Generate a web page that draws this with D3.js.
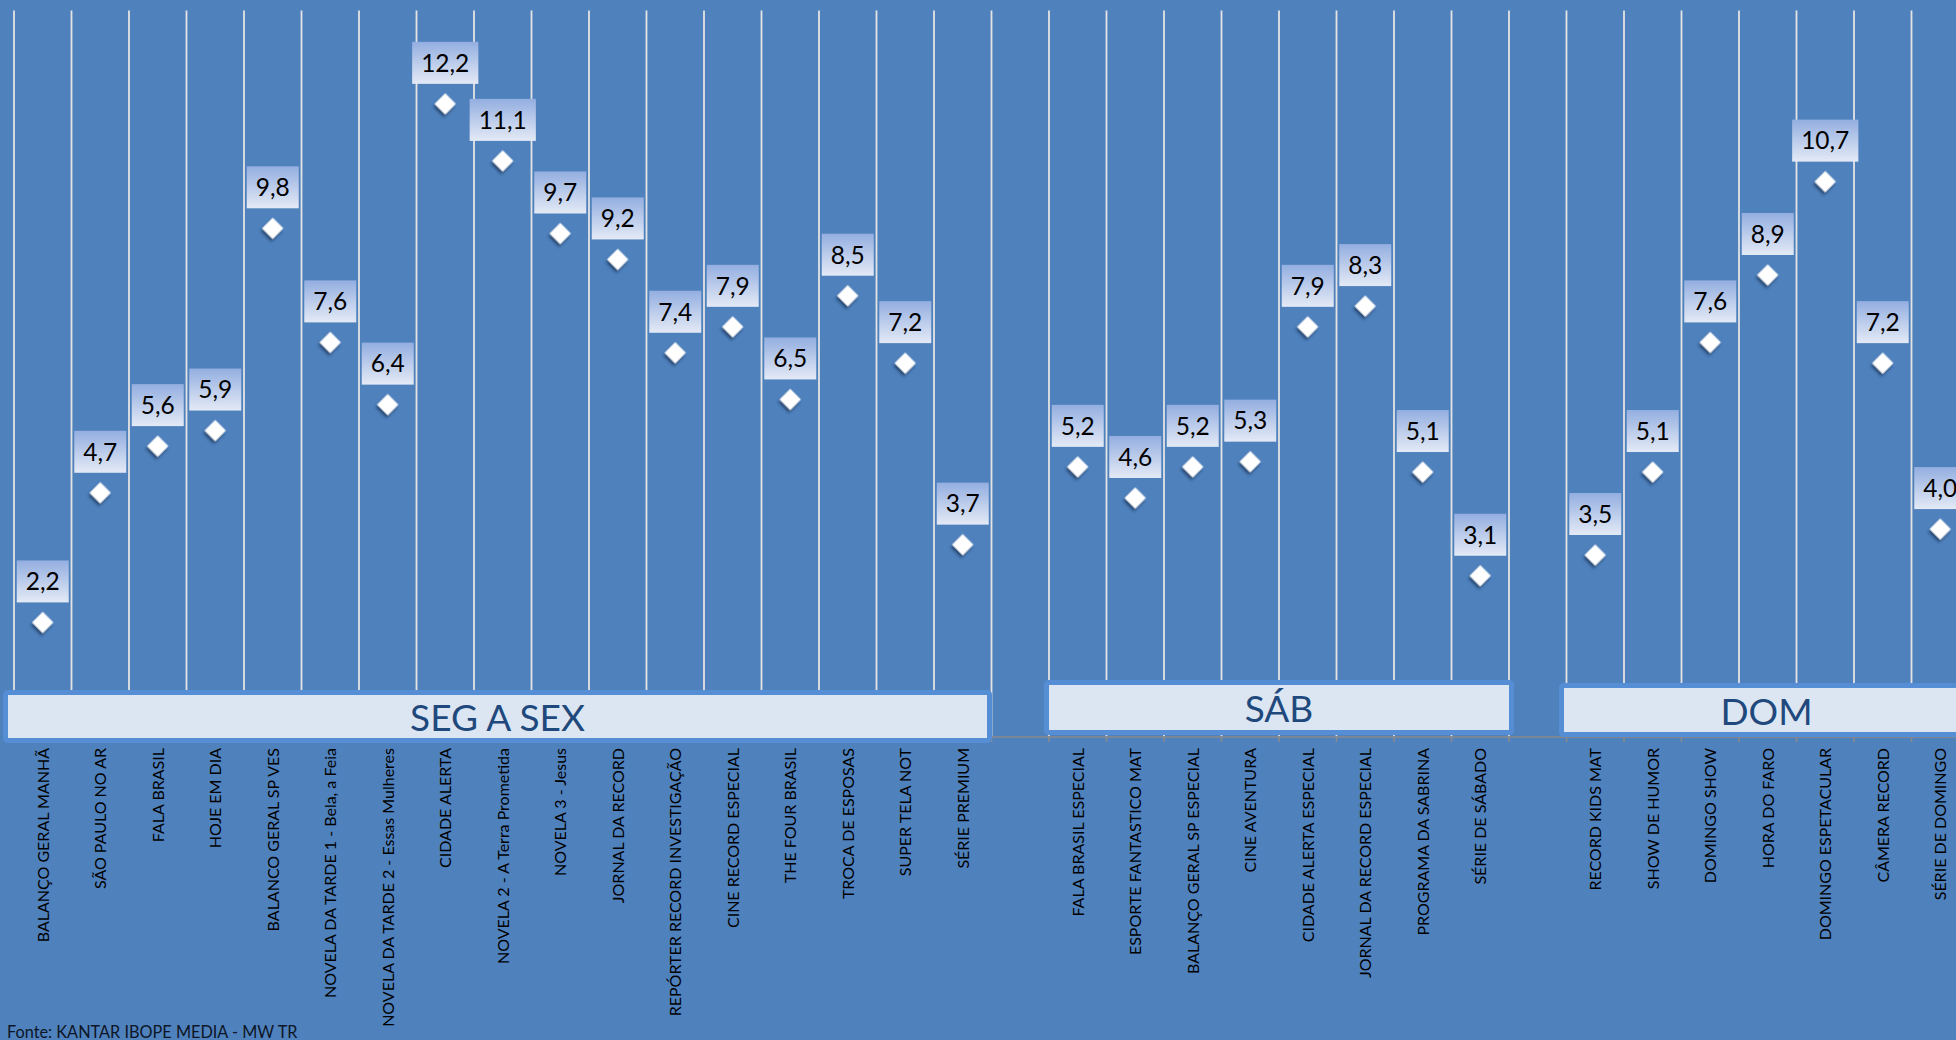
<!DOCTYPE html>
<html>
<head>
<meta charset="utf-8">
<script src="https://cdn.jsdelivr.net/npm/d3@7/dist/d3.min.js"></script>
<style>
  html, body { margin: 0; padding: 0; background: #4f81bd; }
  svg { display: block; }
</style>
</head>
<body>
<svg id="chart" width="1956" height="1040"></svg>
<script>
// ---- DATA ----
const weekdayPrograms = [
  "BALANÇO GERAL MANHÃ", "SÃO PAULO NO AR", "FALA BRASIL", "HOJE EM DIA",
  "BALANCO GERAL SP VES", "NOVELA DA TARDE 1 - Bela, a Feia",
  "NOVELA DA TARDE 2 - Essas Mulheres", "CIDADE  ALERTA",
  "NOVELA 2 - A Terra Prometida", "NOVELA 3 - Jesus", "JORNAL DA RECORD",
  "REPÓRTER RECORD INVESTIGAÇÃO", "CINE RECORD ESPECIAL", "THE FOUR BRASIL",
  "TROCA DE ESPOSAS", "SUPER TELA NOT", "SÉRIE PREMIUM"
];
const weekdayValues = [2.2, 4.7, 5.6, 5.9, 9.8, 7.6, 6.4, 12.2, 11.1, 9.7, 9.2, 7.4, 7.9, 6.5, 8.5, 7.2, 3.7];

const saturdayPrograms = [
  "FALA BRASIL ESPECIAL", "ESPORTE FANTASTICO MAT", "BALANÇO GERAL SP ESPECIAL",
  "CINE AVENTURA", "CIDADE  ALERTA ESPECIAL", "JORNAL DA RECORD ESPECIAL",
  "PROGRAMA DA SABRINA", "SÉRIE DE SÁBADO"
];
const saturdayValues = [5.2, 4.6, 5.2, 5.3, 7.9, 8.3, 5.1, 3.1];

const sundayPrograms = [
  "RECORD KIDS MAT", "SHOW DE HUMOR", "DOMINGO SHOW", "HORA DO FARO",
  "DOMINGO ESPETACULAR", "CÂMERA RECORD", "SÉRIE DE DOMINGO"
];
const sundayValues = [3.5, 5.1, 7.6, 8.9, 10.7, 7.2, 4.0];

const groupLabels = ["SEG A SEX", "SÁB", "DOM"];
const valueDomain = [0, 14];
const sourceNote = "Fonte: KANTAR IBOPE MEDIA - MW TR";

// ---- LAYOUT ----
const W = 1956, H = 1040;
const plotLeft = 14, step = 57.5, plotTop = 10.5, axisY = 736.5;
const FONT = "Lato, 'Open Sans', sans-serif";
// group box placement tweaks (outer edges relative to first/last band)
const groupBoxLayout = [
  { padL: 11, padR: 0.5, top: 690, bottom: 743 },
  { padL: 5, padR: 5, top: 680, bottom: 735 },
  { padL: 7.5, padR: 5, top: 683, bottom: 737 }
];

const groups = [
  { label: groupLabels[0], programs: weekdayPrograms, values: weekdayValues },
  { label: groupLabels[1], programs: saturdayPrograms, values: saturdayValues },
  { label: groupLabels[2], programs: sundayPrograms, values: sundayValues }
];

// Build the flat category list with empty gap columns between groups
const cats = [];
groups.forEach((g, gi) => {
  g.first = cats.length;
  g.programs.forEach((p, i) => cats.push({ label: p, value: g.values[i] }));
  g.last = cats.length - 1;
  if (gi < groups.length - 1) cats.push({ label: "", value: null });
});
const n = cats.length;

const x = d3.scaleBand().domain(d3.range(n)).range([plotLeft, plotLeft + n * step]).padding(0);
const y = d3.scaleLinear().domain(valueDomain).range([axisY, plotTop]);

const svg = d3.select("#chart");
const defs = svg.append("defs");
const grad = defs.append("linearGradient").attr("id", "lblGrad")
  .attr("x1", 0).attr("y1", 0).attr("x2", 0).attr("y2", 1);
grad.append("stop").attr("offset", "0%").attr("stop-color", "#93aee0");
grad.append("stop").attr("offset", "100%").attr("stop-color", "#e4eaf6");

const shadow = defs.append("filter").attr("id", "dshadow")
  .attr("x", "-50%").attr("y", "-50%").attr("width", "200%").attr("height", "200%");
shadow.append("feDropShadow").attr("dx", 1).attr("dy", 3).attr("stdDeviation", 1.6)
  .attr("flood-color", "#1d3558").attr("flood-opacity", 0.75);

svg.append("rect").attr("width", W).attr("height", H).attr("fill", "#4f81bd");

// Gridlines at category boundaries
const bounds = d3.range(n + 1).map(i => i < n ? x(i) : x(n - 1) + x.bandwidth());
svg.append("g").selectAll("line").data(bounds).join("line")
  .attr("x1", d => d).attr("x2", d => d)
  .attr("y1", y(valueDomain[1])).attr("y2", y(0))
  .attr("stroke", "#e4e4e4").attr("stroke-width", 1.8);

// Category axis (labels) via d3.axisBottom
const axis = d3.axisBottom(x).tickSize(0).tickFormat(i => cats[i].label);
const axG = svg.append("g").attr("transform", `translate(0,${axisY})`).call(axis);
axG.select(".domain").attr("stroke", "#8a8a8a").attr("stroke-width", 1.5);
axG.selectAll(".tick text")
  .attr("font-family", FONT).attr("font-size", 16).attr("fill", "#000")
  .attr("text-anchor", "end")
  .attr("transform", "rotate(-90)")
  .attr("x", -(748 - axisY)).attr("y", 0).attr("dy", "0.36em");

// boundary tick marks
svg.append("g").selectAll("line").data(bounds).join("line")
  .attr("x1", d => d).attr("x2", d => d)
  .attr("y1", axisY).attr("y2", axisY + 5.5)
  .attr("stroke", "#8a8a8a").attr("stroke-width", 1.5);

// Group boxes
const gb = svg.append("g");
groups.forEach((g, gi) => {
  const L = groupBoxLayout[gi];
  const x0 = x(g.first) - L.padL;
  const x1 = x(g.last) + x.bandwidth() + L.padR;
  const sw = 5;
  gb.append("rect")
    .attr("x", x0 + sw / 2).attr("y", L.top + sw / 2)
    .attr("width", x1 - x0 - sw).attr("height", L.bottom - L.top - sw)
    .attr("rx", 2)
    .attr("fill", "#dce6f2").attr("stroke", "#558ed5").attr("stroke-width", sw);
  gb.append("text")
    .attr("x", (x0 + x1) / 2).attr("y", (L.top + L.bottom) / 2 + 1.5)
    .attr("text-anchor", "middle").attr("dy", "0.36em")
    .attr("font-family", FONT).attr("font-size", 37).attr("fill", "#1f497d")
    .text(g.label);
});

// Points
const pts = cats.map((c, i) => ({ ...c, i })).filter(c => c.value !== null);
const sym = d3.symbol().type(d3.symbolSquare).size(225);
svg.append("g").selectAll("path").data(pts).join("path")
  .attr("d", sym)
  .attr("transform", d => `translate(${x(d.i) + x.bandwidth() / 2},${y(d.value)}) rotate(45)`)
  .attr("fill", "#ffffff")
  .attr("filter", "url(#dshadow)");

// Data labels
const fmt = v => d3.format(".1f")(v).replace(".", ",");
const lg = svg.append("g");
pts.forEach(d => {
  const cx = x(d.i) + x.bandwidth() / 2;
  const bottom = y(d.value) - 20;
  const h = 42;
  const g = lg.append("g");
  const r = g.append("rect").attr("fill", "url(#lblGrad)");
  const t = g.append("text")
    .attr("x", cx).attr("y", bottom - h / 2).attr("dy", "0.36em")
    .attr("text-anchor", "middle")
    .attr("font-family", FONT).attr("font-size", 24.5).attr("fill", "#000")
    .text(fmt(d.value));
  const w = t.node().getComputedTextLength() + 18;
  r.attr("x", cx - w / 2).attr("y", bottom - h).attr("width", w).attr("height", h);
});

// Source note
svg.append("text")
  .attr("x", 7).attr("y", 1038)
  .attr("font-family", FONT).attr("font-size", 16.3).attr("fill", "#0d1626")
  .text(sourceNote);
</script>
</body>
</html>
